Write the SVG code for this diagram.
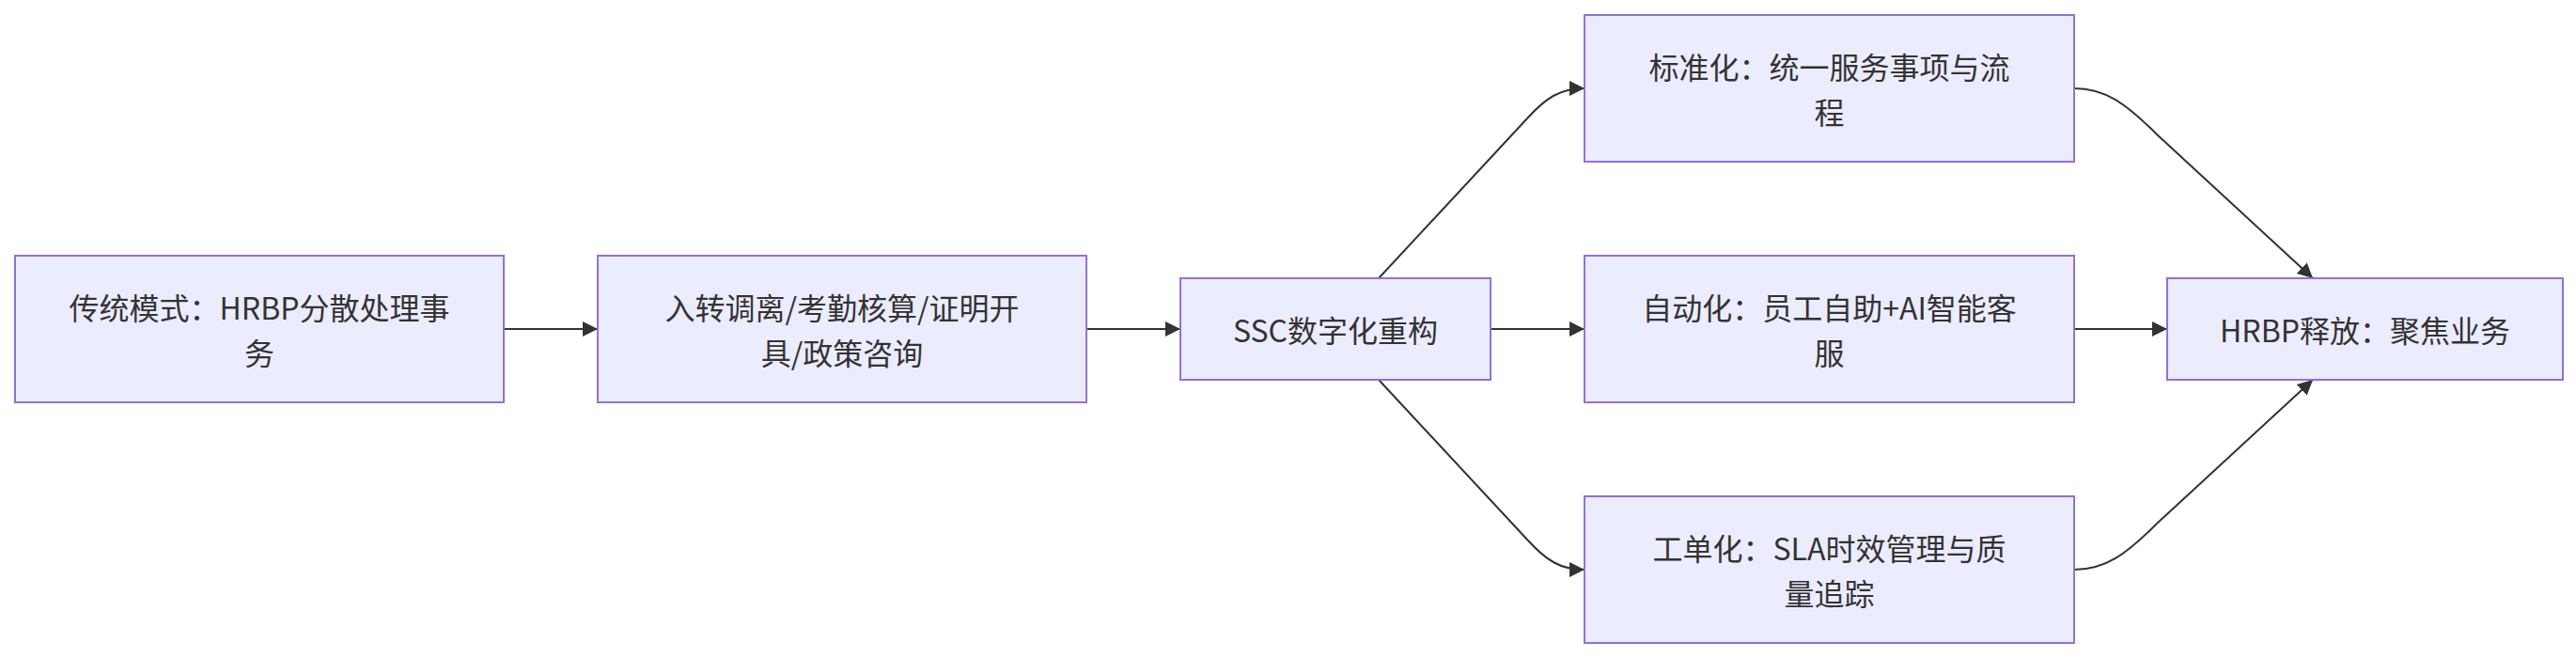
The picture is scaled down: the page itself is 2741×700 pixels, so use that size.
<svg xmlns="http://www.w3.org/2000/svg" width="2741" height="700" viewBox="0 0 2741 700">
<style>
.node rect{fill:#ECECFF;stroke:#9370DB;stroke-width:2}
.node text{font-family:"Noto Sans CJK SC","Liberation Sans",sans-serif;font-size:32px;fill:#333333;text-anchor:middle;dominant-baseline:central}
.edge{fill:none;stroke:#333333;stroke-width:2}
</style>
<defs>
<marker id="arrow" markerUnits="userSpaceOnUse" markerWidth="16" markerHeight="16" refX="16" refY="8" orient="auto" viewBox="0 0 16 16">
<path d="M0,0 L16,8 L0,16 z" fill="#333333"/>
</marker>
</defs>
<rect width="2741" height="700" fill="#ffffff"/>
<g id="connectors">
<path class="edge" d="M536,350 L636,350" marker-end="url(#arrow)"/>
<path class="edge" d="M1156,350 L1256,350" marker-end="url(#arrow)"/>
<path class="edge" d="M1467,296 L1625,126 C1645,104 1660,94 1686,94" marker-end="url(#arrow)"/>
<path class="edge" d="M1586,350 L1686,350" marker-end="url(#arrow)"/>
<path class="edge" d="M1467,404 L1625,574 C1645,596 1660,606 1686,606" marker-end="url(#arrow)"/>
<path class="edge" d="M2207,94 C2240,94 2262,110 2295,143 L2461,296" marker-end="url(#arrow)"/>
<path class="edge" d="M2207,350 L2306,350" marker-end="url(#arrow)"/>
<path class="edge" d="M2207,606 C2240,606 2262,590 2295,557 L2461,404" marker-end="url(#arrow)"/>
</g>
<g id="A" class="node">
<rect x="16" y="272" width="520" height="156"/>
<text x="276" y="326">传统模式：HRBP分散处理事</text>
<text x="276" y="374">务</text>
</g>
<g id="B" class="node">
<rect x="636" y="272" width="520" height="156"/>
<text x="896" y="326">入转调离/考勤核算/证明开</text>
<text x="896" y="374">具/政策咨询</text>
</g>
<g id="C" class="node">
<rect x="1256" y="296" width="330" height="108"/>
<text x="1421" y="350">SSC数字化重构</text>
</g>
<g id="D" class="node">
<rect x="1686" y="16" width="521" height="156"/>
<text x="1946.5" y="70">标准化：统一服务事项与流</text>
<text x="1946.5" y="118">程</text>
</g>
<g id="E" class="node">
<rect x="1686" y="272" width="521" height="156"/>
<text x="1946.5" y="326">自动化：员工自助+AI智能客</text>
<text x="1946.5" y="374">服</text>
</g>
<g id="F" class="node">
<rect x="1686" y="528" width="521" height="156"/>
<text x="1946.5" y="582">工单化：SLA时效管理与质</text>
<text x="1946.5" y="630">量追踪</text>
</g>
<g id="G" class="node">
<rect x="2306" y="296" width="421" height="108"/>
<text x="2516.5" y="350">HRBP释放：聚焦业务</text>
</g>
</svg>
